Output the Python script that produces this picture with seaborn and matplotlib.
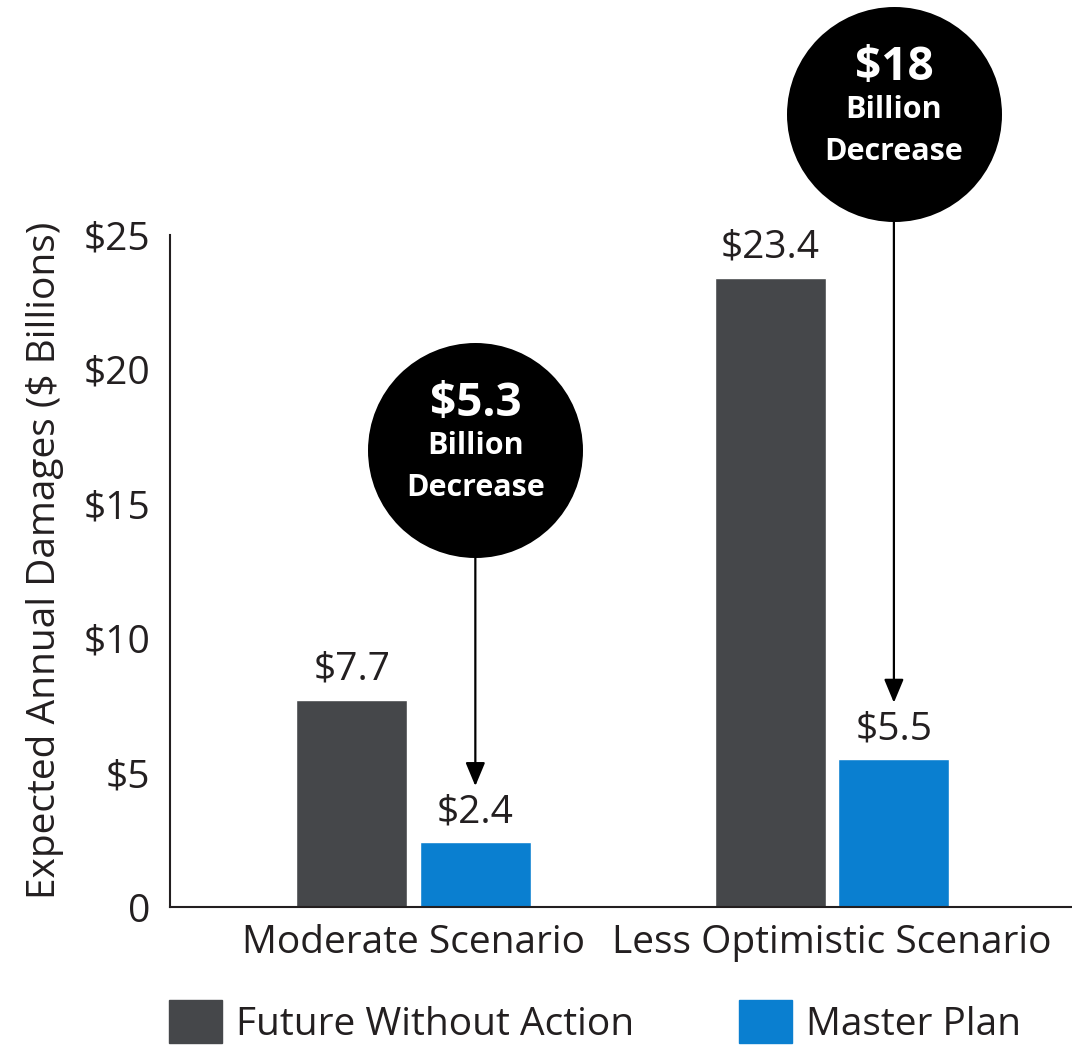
import numpy as np
import pandas as pd
import matplotlib
matplotlib.use('Agg')
import matplotlib.pyplot as plt
import seaborn as sns
from matplotlib.patches import Patch

sns.set_theme(style="white")
plt.rcParams['font.family'] = ['Open Sans', 'DejaVu Sans']

# ---- data ------------------------------------------------------------
scenarios = ['Moderate Scenario', 'Less Optimistic Scenario']
series = ['Future Without Action', 'Master Plan']
future_without_action = [7.7, 23.4]
master_plan = [2.4, 5.5]
decrease_labels = ['$5.3', '$18']
bubble_y = [17.0, 29.5]          # where the callout bubbles sit (data units)
yticks = [0, 5, 10, 15, 20, 25]
ytick_labels = ['0', '$5', '$10', '$15', '$20', '$25']

colors = {'Future Without Action': '#45474a', 'Master Plan': '#0a7fd0'}
txt = '#231f20'

df = pd.DataFrame({
    'scenario': scenarios * 2,
    'series': [series[0]] * 2 + [series[1]] * 2,
    'value': future_without_action + master_plan,
})

# ---- figure ----------------------------------------------------------
W, H = 1072, 1046
fig = plt.figure(figsize=(W / 100, H / 100), dpi=100)
ax = fig.add_axes([170 / W, (H - 907) / H, (W - 170) / W, 907 / H])

sns.barplot(data=df, x='scenario', y='value', hue='series', order=scenarios,
            hue_order=series, palette=colors, width=0.59, gap=0.1,
            saturation=1, legend=False, ax=ax)

px_per_unit = (907 - 235) / 25
ax.set_ylim(0, 907 / px_per_unit)
ax.set_xlim(-0.582, 1.573)

for cont in ax.containers:
    ax.bar_label(cont, labels=['$%g' % v for v in cont.datavalues],
                 padding=8, fontsize=28, color=txt)

# callouts: bubble + arrow pointing at master plan bar
master_cont = ax.containers[1]
diam_px = 215
r_units = diam_px / 2 / px_per_unit
for i, bar in enumerate(master_cont.patches):
    bx = bar.get_x() + bar.get_width() / 2
    val = master_plan[i]
    cy = bubble_y[i]
    ax.scatter([bx], [cy], s=(diam_px * 0.72) ** 2, color='black', zorder=5,
               clip_on=False, linewidths=0)
    ax.text(bx, cy + 1.75, decrease_labels[i], ha='center', va='center',
            color='white', fontsize=33, fontweight='bold', zorder=6)
    ax.text(bx, cy + 0.15, 'Billion', ha='center', va='center',
            color='white', fontsize=22, fontweight='bold', zorder=6)
    ax.text(bx, cy - 1.4, 'Decrease', ha='center', va='center',
            color='white', fontsize=22, fontweight='bold', zorder=6)
    ax.annotate('', xy=(bx, val + 2.1), xytext=(bx, cy - r_units),
                arrowprops=dict(arrowstyle='-|>,head_length=1.2,head_width=0.5',
                                color='black', lw=1.6, shrinkA=0, shrinkB=0),
                zorder=4)

# axes styling
ax.set_yticks(yticks)
ax.set_yticklabels(ytick_labels)
ax.tick_params(axis='both', length=0, labelsize=28, colors=txt)
ax.tick_params(axis='y', pad=14)
ax.tick_params(axis='x', pad=12)
ax.set_xlabel('')
ax.set_ylabel('Expected Annual Damages ($ Billions)', fontsize=28, color=txt)
ax.yaxis.set_label_coords((64 - 170) / (W - 170), (907 - 560) / 907)
for s in ['top', 'right']:
    ax.spines[s].set_visible(False)
ax.spines['left'].set_bounds(0, 25)
for s in ['left', 'bottom']:
    ax.spines[s].set_color(txt)
    ax.spines[s].set_linewidth(1.5)

handles = [Patch(color=colors[s], label=s) for s in series]
fig.legend(handles=handles, loc='center left',
           bbox_to_anchor=(150 / W, 1 - 1022 / H), borderpad=0,
           ncol=2, frameon=False, fontsize=28, handlelength=1.36,
           handleheight=1.3, handletextpad=0.36, columnspacing=2.68,
           labelcolor=txt)

fig.savefig('out.png', dpi=100)
